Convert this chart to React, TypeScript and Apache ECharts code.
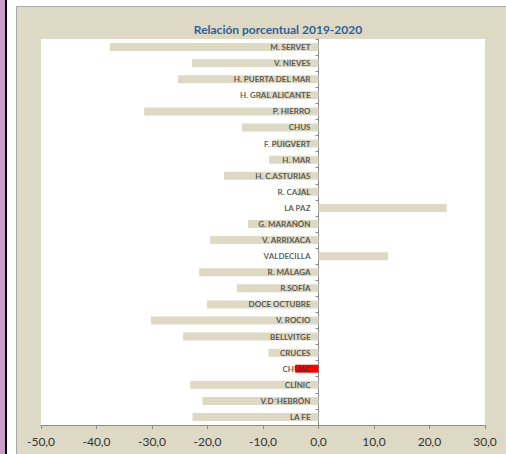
import React, { useEffect, useRef } from "react";
import * as echarts from "echarts";

const categories = [
  "M. SERVET", "V. NIEVES", "H. PUERTA DEL MAR", "H. GRAL ALICANTE", "P. HIERRO",
  "CHUS", "F. PUIGVERT", "H. MAR", "H. C.ASTURIAS", "R. CAJAL", "LA PAZ",
  "G. MARAÑÓN", "V. ARRIXACA", "VALDECILLA", "R. MÁLAGA", "R.SOFÍA",
  "DOCE OCTUBRE", "V. ROCIO", "BELLVITGE", "CRUCES", "CHUAC", "CLÍNIC",
  "V.D´HEBRÓN", "LA FE",
];
const values = [
  -37.6, -22.8, -25.3, -10.8, -31.4,
  -13.8, -8.1, -8.9, -17.0, -3.9, 23.1,
  -12.7, -19.5, 12.5, -21.5, -14.7,
  -20.1, -30.2, -24.4, -9.0, -4.2, -23.1,
  -20.9, -22.7,
];
const highlighted = "CHUAC";
const xMin = -50;
const xMax = 30;
const xStep = 10;
const titleText = "Relación porcentual 2019-2020";

export default function App() {
  const ref = useRef<HTMLDivElement>(null);
  useEffect(() => {
    if (!ref.current) return;
    const chart = echarts.init(ref.current, null, { renderer: "svg" });
    chart.setOption({
      animation: false,
      backgroundColor: "#ffffff",
      title: {
        text: titleText,
        left: 273,
        textAlign: "center",
        top: 18,
        textStyle: {
          fontFamily: "Lato, Liberation Sans, Arial, sans-serif",
          fontSize: 12,
          fontWeight: "bold",
          color: "#2f5f98",
        },
      },
      graphic: [
        { type: "rect", z: -10, shape: { x: 0, y: 0, width: 5, height: 454 }, style: { fill: "#cc9ccc" } },
        { type: "rect", z: -10, shape: { x: 5, y: 0, width: 2, height: 454 }, style: { fill: "#000000" } },
        { type: "rect", z: -10, shape: { x: 16.5, y: 6.5, width: 495, height: 460 }, style: { fill: "#ddd9c4", stroke: "#a8a8a8", lineWidth: 1 } },
      ],
      grid: {
        left: 41,
        right: 21,
        top: 39,
        bottom: 29,
        show: true,
        backgroundColor: "#ffffff",
        borderWidth: 0,
        containLabel: false,
      },
      xAxis: {
        type: "value",
        min: xMin,
        max: xMax,
        interval: xStep,
        splitLine: { show: false },
        axisLine: { show: true, onZero: false, lineStyle: { color: "#8c8c8c", width: 1 } },
        axisTick: { show: true, length: 4, lineStyle: { color: "#8c8c8c" } },
        axisLabel: {
          margin: 10,
          fontFamily: "Lato, Liberation Sans, Arial, sans-serif",
          fontSize: 12,
          color: "#333333",
          formatter: (v: number) => v.toFixed(1).replace(".", ","),
        },
      },
      yAxis: {
        type: "category",
        data: categories,
        inverse: true,
        axisLine: { show: true, onZero: true, lineStyle: { color: "#8c8c8c", width: 1 } },
        axisTick: { show: true, length: 3, lineStyle: { color: "#8c8c8c" } },
        splitLine: { show: false },
        axisLabel: { show: false },
      },
      series: [
        {
          type: "bar",
          barWidth: 8,
          z: 2,
          data: values.map((v, i) => ({
            value: v,
            itemStyle: { color: categories[i] === highlighted ? "#ff0000" : "#ddd9c4" },
          })),
        },
        {
          type: "scatter",
          symbolSize: 0,
          z: 10,
          silent: true,
          data: categories.map((c) => [0, c]),
          label: {
            show: true,
            position: "left",
            distance: 8,
            formatter: (p: any) => p.data[1],
            fontFamily: "Lato, Liberation Sans, Arial, sans-serif",
            fontSize: 8,
            fontWeight: "bold",
            color: "#333333",
          },
        },
      ],
    });
    return () => chart.dispose();
  }, []);
  return (
    <div
      ref={ref}
      style={{ position: "fixed", left: 0, top: 0, width: 506, height: 454 }}
    />
  );
}
